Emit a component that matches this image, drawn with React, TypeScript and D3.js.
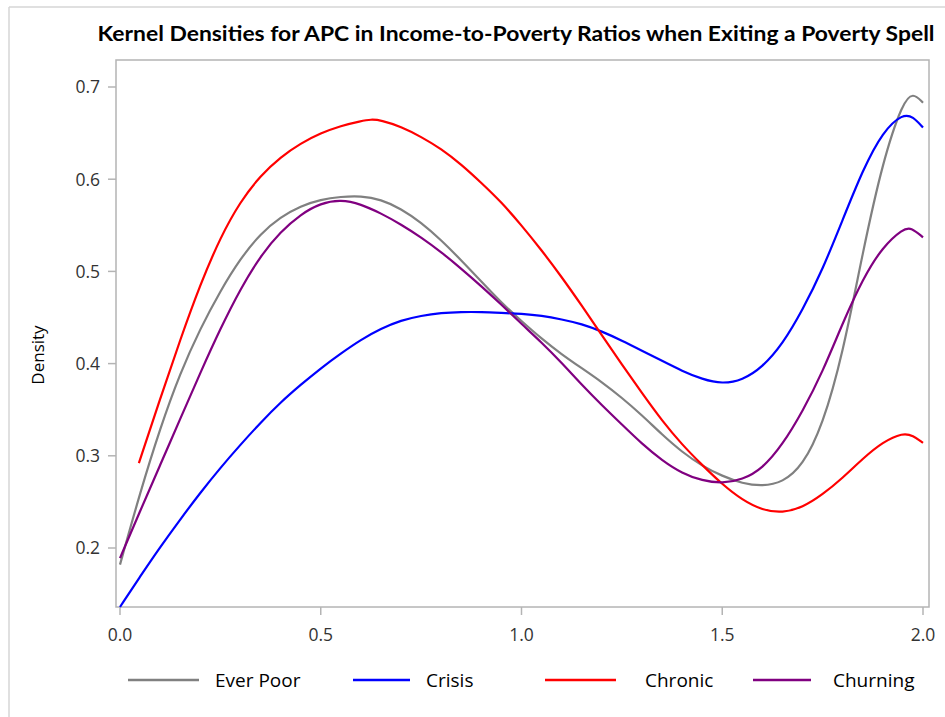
import React from "react";
import * as d3 from "d3";

const title = "Kernel Densities for APC in Income-to-Poverty Ratios when Exiting a Poverty Spell";
const yLabel = "Density";
const xTicks = [0, 0.5, 1.0, 1.5, 2.0];
const yTicks = [0.2, 0.3, 0.4, 0.5, 0.6, 0.7];

const everPoor: [number, number][] = [
  [0, 0.182], [0.05, 0.26], [0.1, 0.33], [0.15, 0.39], [0.2, 0.438], [0.25, 0.479], [0.3, 0.514],
  [0.35, 0.541], [0.4, 0.559], [0.45, 0.571], [0.5, 0.578], [0.55, 0.581], [0.6, 0.582],
  [0.65, 0.578], [0.7, 0.568], [0.75, 0.553], [0.8, 0.534], [0.85, 0.512], [0.9, 0.489],
  [0.95, 0.466], [1.0, 0.446], [1.05, 0.427], [1.1, 0.41], [1.15, 0.395], [1.2, 0.38],
  [1.25, 0.363], [1.3, 0.344], [1.35, 0.323], [1.4, 0.304], [1.45, 0.289], [1.5, 0.278],
  [1.55, 0.27], [1.6, 0.267], [1.65, 0.271], [1.7, 0.289], [1.75, 0.333], [1.8, 0.41],
  [1.85, 0.521], [1.9, 0.62], [1.95, 0.684], [1.975, 0.694], [2.0, 0.683],
];

const crisis: [number, number][] = [
  [0, 0.136], [0.05, 0.169], [0.1, 0.201], [0.15, 0.231], [0.2, 0.26], [0.25, 0.287], [0.3, 0.312],
  [0.35, 0.336], [0.4, 0.358], [0.45, 0.377], [0.5, 0.395], [0.55, 0.411], [0.6, 0.426],
  [0.65, 0.438], [0.7, 0.447], [0.75, 0.452], [0.8, 0.455], [0.85, 0.456], [0.9, 0.456],
  [0.95, 0.455], [1.0, 0.454], [1.05, 0.452], [1.1, 0.448], [1.15, 0.443], [1.2, 0.435],
  [1.25, 0.425], [1.3, 0.414], [1.35, 0.403], [1.4, 0.392], [1.45, 0.383], [1.5, 0.378],
  [1.55, 0.382], [1.6, 0.396], [1.65, 0.421], [1.7, 0.458], [1.75, 0.502], [1.8, 0.556],
  [1.85, 0.61], [1.9, 0.652], [1.95, 0.671], [1.975, 0.668], [2.0, 0.656],
];

const chronic: [number, number][] = [
  [0.047, 0.292], [0.1, 0.362], [0.15, 0.426], [0.2, 0.486], [0.25, 0.537], [0.3, 0.576],
  [0.35, 0.604], [0.4, 0.624], [0.45, 0.639], [0.5, 0.65], [0.55, 0.658], [0.6, 0.663],
  [0.625, 0.665], [0.65, 0.664], [0.7, 0.657], [0.75, 0.646], [0.8, 0.633], [0.85, 0.616],
  [0.9, 0.596], [0.95, 0.575], [1.0, 0.55], [1.05, 0.523], [1.1, 0.494], [1.15, 0.463],
  [1.2, 0.431], [1.25, 0.399], [1.3, 0.368], [1.35, 0.338], [1.4, 0.312], [1.45, 0.29],
  [1.5, 0.269], [1.55, 0.252], [1.6, 0.241], [1.65, 0.238], [1.7, 0.244], [1.75, 0.258],
  [1.8, 0.276], [1.85, 0.297], [1.9, 0.315], [1.95, 0.325], [1.975, 0.322], [2.0, 0.314],
];

const churning: [number, number][] = [
  [0, 0.189], [0.05, 0.24], [0.1, 0.29], [0.15, 0.34], [0.2, 0.39], [0.25, 0.438], [0.3, 0.481],
  [0.35, 0.517], [0.4, 0.543], [0.45, 0.562], [0.5, 0.574], [0.55, 0.578], [0.6, 0.573],
  [0.65, 0.563], [0.7, 0.551], [0.75, 0.537], [0.8, 0.521], [0.85, 0.503], [0.9, 0.484],
  [0.95, 0.464], [1.0, 0.443], [1.05, 0.423], [1.1, 0.401], [1.15, 0.377], [1.2, 0.355],
  [1.25, 0.334], [1.3, 0.313], [1.35, 0.295], [1.4, 0.281], [1.45, 0.273], [1.5, 0.27],
  [1.55, 0.274], [1.6, 0.286], [1.65, 0.312], [1.7, 0.348], [1.75, 0.391], [1.8, 0.444],
  [1.85, 0.492], [1.9, 0.527], [1.95, 0.546], [1.97, 0.548], [2.0, 0.537],
];

const seriesNames = ["Ever Poor", "Crisis", "Chronic", "Churning"];
const seriesData = [everPoor, crisis, chronic, churning];
const seriesColors = ["#808080", "#0000ff", "#ff0000", "#800080"];

const frame = { left: 116, right: 929, top: 60, bottom: 607 };
const legendPos = [
  { x1: 128, x2: 199, tx: 215 },
  { x1: 353, x2: 410, tx: 426 },
  { x1: 545, x2: 616, tx: 645 },
  { x1: 753, x2: 811, tx: 833 },
];

export default function App() {
  const x = d3.scaleLinear().domain([0, 2]).range([120, 923]);
  const y = d3.scaleLinear().domain([0.2, 0.7]).range([548, 87]);
  const line = d3
    .line<[number, number]>()
    .x((d) => x(d[0]))
    .y((d) => y(d[1]))
    .curve(d3.curveBasis);
  const axisColor = "#b4b4b4";
  const font = "'Open Sans', 'DejaVu Sans', sans-serif";
  return (
    <svg
      width={945}
      height={717}
      style={{ position: "absolute", left: 0, top: 0, background: "#fff" }}
    >
      <rect x={0} y={0} width={945} height={717} fill="#fff" />
      <line x1={9} y1={7} x2={9} y2={717} stroke="#d6d6d6" strokeWidth={1.5} />
      <line x1={9} y1={7} x2={945} y2={7} stroke="#d6d6d6" strokeWidth={1.5} />
      <text
        x={516}
        y={41}
        textAnchor="middle"
        fontFamily="Lato, 'Open Sans', sans-serif"
        fontWeight="bold"
        fontSize={20}
        textLength={837}
        lengthAdjust="spacingAndGlyphs"
        fill="#000"
      >
        {title}
      </text>
      <rect
        x={frame.left}
        y={frame.top}
        width={frame.right - frame.left}
        height={frame.bottom - frame.top}
        fill="none"
        stroke={axisColor}
        strokeWidth={1.5}
      />
      {yTicks.map((t) => (
        <g key={"y" + t}>
          <line x1={108} x2={frame.left} y1={y(t)} y2={y(t)} stroke={axisColor} strokeWidth={1.5} />
          <text
            x={100}
            y={y(t)}
            dy="0.36em"
            textAnchor="end"
            fontFamily={font}
            fontSize={17.5}
            fill="#333"
          >
            {t.toFixed(1)}
          </text>
        </g>
      ))}
      {xTicks.map((t) => (
        <g key={"x" + t}>
          <line x1={x(t)} x2={x(t)} y1={frame.bottom} y2={frame.bottom + 8} stroke={axisColor} strokeWidth={1.5} />
          <text
            x={x(t)}
            y={641}
            textAnchor="middle"
            fontFamily={font}
            fontSize={17.5}
            fill="#333"
          >
            {t.toFixed(1)}
          </text>
        </g>
      ))}
      <text
        transform={`translate(44, 355) rotate(-90)`}
        textAnchor="middle"
        fontFamily={font}
        fontSize={17}
        fill="#000"
      >
        {yLabel}
      </text>
      {seriesData.map((data, i) => (
        <path
          key={seriesNames[i]}
          d={line(data) || ""}
          fill="none"
          stroke={seriesColors[i]}
          strokeWidth={2.2}
        />
      ))}
      {seriesNames.map((name, i) => (
        <g key={"lg" + name}>
          <line
            x1={legendPos[i].x1}
            x2={legendPos[i].x2}
            y1={680}
            y2={680}
            stroke={seriesColors[i]}
            strokeWidth={2.5}
          />
          <text x={legendPos[i].tx} y={687} fontFamily={font} fontSize={19} fill="#000">
            {name}
          </text>
        </g>
      ))}
    </svg>
  );
}
